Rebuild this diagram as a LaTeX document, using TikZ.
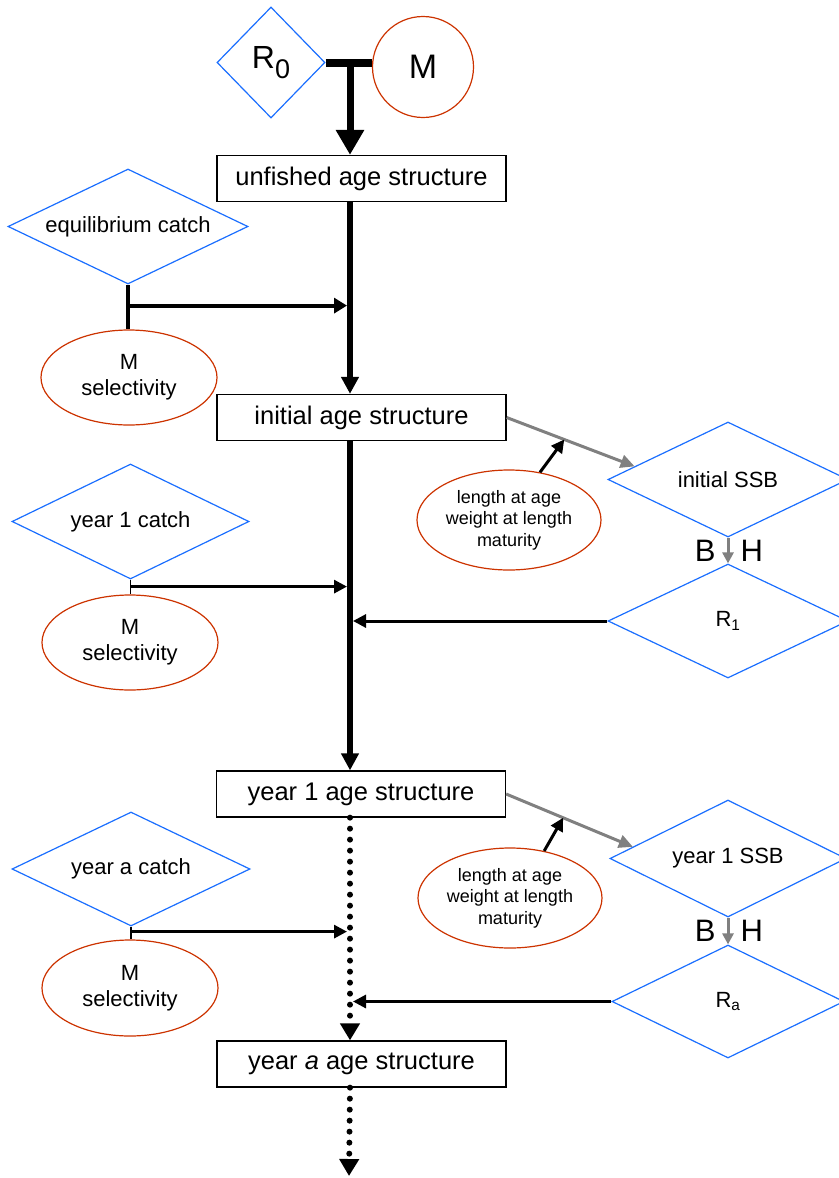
\documentclass[tikz,border=0pt]{standalone}
\usepackage{fontspec}
\setmainfont{Liberation Sans}
\usetikzlibrary{shapes.geometric,arrows.meta}
\definecolor{parblue}{RGB}{26,110,255}
\definecolor{inred}{RGB}{204,51,0}
\definecolor{ssbgrey}{RGB}{128,128,128}
\begin{document}
\begin{tikzpicture}[x=1pt,y=-1pt,
    agebox/.style={draw,line width=1.3pt,minimum width=289pt,minimum height=46pt,
      inner sep=0pt,font=\fontsize{25.5}{30}\selectfont},
    pardiam/.style={diamond,draw=parblue,line width=1.2pt,shape aspect=2,inner sep=0pt,
      font=\fontsize{22}{26}\selectfont},
    inell/.style={ellipse,draw=inred,line width=1.2pt,inner sep=0pt,align=center,
      font=\fontsize{22}{26}\selectfont},
    spineflow/.style={line width=6pt,-{Triangle[length=17pt,width=17pt]}},
    dotflow/.style={line width=6pt,line cap=round,dash pattern=on 0pt off 11pt,
      -{Triangle[length=17pt,width=19pt]}},
    sideflow/.style={line width=3pt,-{Triangle[length=13pt,width=13pt]}},
    ssbflow/.style={ssbgrey,line width=3pt,-{Triangle[length=14pt,width=13pt]}},
    bhflow/.style={ssbgrey,line width=3pt,-{Triangle[length=11pt,width=11pt]}},
    bhlabel/.style={inner sep=0pt,text=black,font=\fontsize{31}{31}\selectfont}]
  \useasboundingbox (0,0) rectangle (838,1178);

  \node[pardiam,shape aspect=1,minimum width=108pt,minimum height=111pt,
    font=\fontsize{32}{32}\selectfont] (R0) at (271,62.5)
    {R\raisebox{-10pt}{\fontsize{27}{27}\selectfont 0}};
  \node[circle,draw=inred,line width=1.2pt,minimum size=101pt,
    font=\fontsize{34}{34}\selectfont] (M) at (423,67) {M};

  \node[agebox] (unfished) at (361.5,178.5) {unfished age structure};
  \node[agebox] (initial) at (361.5,417.5) {initial age structure};
  \node[agebox] (year1) at (361,794) {year 1 age structure};
  \node[agebox] (yeara) at (361.5,1064) {year \textit{a} age structure};

  \node[pardiam,minimum width=240pt,minimum height=115pt] (eqcatch) at (128,226.5) {equilibrium catch};
  \node[inell,minimum width=176pt,minimum height=95pt] (eqsel) at (129,377.5) {M\\selectivity};
  \node[pardiam,minimum width=237pt,minimum height=115pt] (c1) at (130.5,521.5) {year 1 catch};
  \node[inell,minimum width=176pt,minimum height=95pt] (sel1) at (130,642.5) {M\\selectivity};
  \node[pardiam,minimum width=238pt,minimum height=114pt] (ca) at (131,869) {year a catch};
  \node[inell,minimum width=176pt,minimum height=96pt] (sela) at (130,988) {M\\selectivity};

  \node[pardiam,minimum width=240pt,minimum height=115pt] (ssb0) at (728,479.5) {initial SSB};
  \node[pardiam,minimum width=240pt,minimum height=114pt] (R1) at (728,621) {R\textsubscript{1}};
  \node[pardiam,minimum width=236pt,minimum height=117pt] (ssb1) at (728,858.5) {year 1 SSB};
  \node[pardiam,minimum width=232pt,minimum height=113pt] (Ra) at (728,1001.5) {R\textsubscript{a}};

  \node[inell,minimum width=184pt,minimum height=100pt,font=\fontsize{18}{21.5}\selectfont]
    (lw0) at (509,520) {length at age\\weight at length\\maturity};
  \node[inell,minimum width=184pt,minimum height=100pt,font=\fontsize{18}{21.5}\selectfont]
    (lw1) at (510,898) {length at age\\weight at length\\maturity};

  \coordinate (rm) at (350,62);
  \coordinate (tail) at (349,1176);

  \begin{scope}
    \draw[line width=8pt] (R0.east) -- (R0.east -| M.west);
    \draw[line width=7pt,-{Triangle[length=25pt,width=27pt]}] (rm) -- (rm |- unfished.north);
    \draw[spineflow] (unfished.south -| rm) -- (initial.north -| rm);
    \draw[spineflow] (initial.south -| rm) -- (year1.north -| rm);
    \draw[dotflow] (year1.south -| rm) -- (yeara.north -| rm);
    \draw[dotflow] (yeara.south -| rm) -- (tail);

    \draw[line width=4pt] (eqcatch.south) -- (eqcatch.south |- eqsel.north);
    \path (eqcatch.south) ++(0,21) coordinate (eqj);
    \draw[line width=4pt,-{Triangle[length=13pt,width=15pt]},shorten >=3pt] (eqj) -- (eqj -| rm);

    \draw[line width=1.5pt] (c1.south) -- (c1.south |- sel1.north);
    \path (c1.south) ++(0,7) coordinate (c1j);
    \draw[sideflow,shorten >=3pt] (c1j) -- (c1j -| rm);

    \draw[line width=1.5pt] (ca.south) -- (ca.south |- sela.north);
    \path (ca.south) ++(0,5) coordinate (caj);
    \draw[sideflow,shorten >=3pt] (caj) -- (caj -| rm);

    \draw[sideflow,shorten >=3pt] (R1.west) -- (R1.west -| rm);
    \draw[sideflow,shorten >=3pt] (Ra.west) -- (Ra.west -| rm);

    \draw[ssbflow] (initial.east) -- (ssb0.172.5) coordinate[pos=0.45] (g0);
    \draw[sideflow] (lw0.57) -- (g0);
    \draw[ssbflow] (year1.east) -- (ssb1.173.8) coordinate[pos=0.45] (g1);
    \draw[sideflow] (lw1.54) -- (g1);

    \draw[bhflow] (ssb0.south) -- (R1.north)
      node[bhlabel,midway,anchor=east,xshift=-11pt] {B}
      node[bhlabel,midway,anchor=west,xshift=11pt] {H};
    \draw[bhflow] (ssb1.south) -- (Ra.north)
      node[bhlabel,midway,anchor=east,xshift=-11pt] {B}
      node[bhlabel,midway,anchor=west,xshift=11pt] {H};
  \end{scope}
\end{tikzpicture}
\end{document}
